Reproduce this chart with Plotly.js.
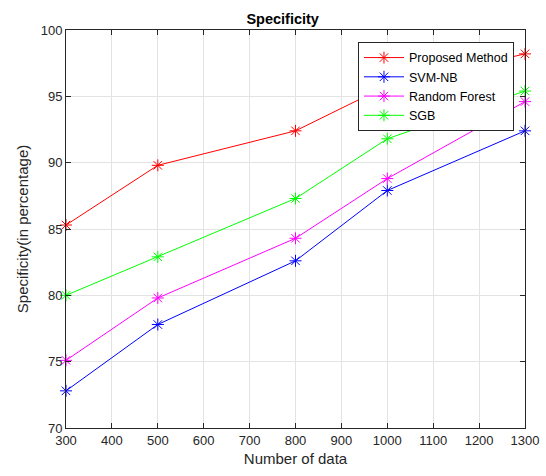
<!DOCTYPE html>
<html>
<head>
<meta charset="utf-8">
<script src="https://cdn.plot.ly/plotly-3.0.1.min.js"></script>
<style>body{margin:0;padding:0;background:#fff}#chart{width:546px;height:476px}</style>
</head>
<body>
<div id="chart"></div>
<script>
const xData = [300, 500, 800, 1000, 1300];
const proposed = [85.3, 89.8, 92.4, 95.8, 98.2];
const svmNb = [72.8, 77.8, 82.6, 87.9, 92.4];
const randomForest = [75.1, 79.8, 84.3, 88.8, 94.6];
const sgb = [80.0, 82.9, 87.3, 91.8, 95.4];
const seriesNames = ['Proposed Method', 'SVM-NB', 'Random Forest', 'SGB'];
const seriesColors = ['#ff0000', '#0000ff', '#ff00ff', '#00ff00'];
const seriesValues = [proposed, svmNb, randomForest, sgb];
const xTicks = [300, 400, 500, 600, 700, 800, 900, 1000, 1100, 1200, 1300];
const yTicks = [70, 75, 80, 85, 90, 95, 100];

const traces = seriesValues.map((v, i) => ({
  x: xData, y: v, name: seriesNames[i], type: 'scatter', mode: 'lines+markers',
  line: {color: seriesColors[i], width: 1},
  marker: {symbol: 'asterisk-open', size: 10, color: seriesColors[i], line: {color: seriesColors[i], width: 1}},
  cliponaxis: false
}));

const axisCommon = {
  showline: true, linecolor: '#262626', linewidth: 1, mirror: 'ticks',
  ticks: 'inside', ticklen: 5, tickcolor: '#262626',
  showgrid: true, gridcolor: '#e3e3e3', gridwidth: 1, zeroline: false,
  tickfont: {family: 'Liberation Sans, Arial, sans-serif', size: 13, color: '#262626'}
};

const layout = {
  width: 546, height: 476,
  margin: {l: 66, r: 21, t: 30, b: 48},
  paper_bgcolor: '#ffffff', plot_bgcolor: '#ffffff',
  font: {family: 'Liberation Sans, Arial, sans-serif', color: '#262626'},
  title: {text: '<b>Specificity</b>', x: 0.472, xanchor: 'center', xref: 'paper', y: 1, yref: 'paper', yanchor: 'bottom', pad: {b: 6},
    font: {size: 14.5, color: '#000000', family: 'Liberation Sans, Arial, sans-serif'}},
  xaxis: Object.assign({}, axisCommon, {
    range: [300, 1300], tickvals: xTicks, ticktext: xTicks.map(String),
    title: {text: 'Number of data', standoff: 6, font: {size: 15, color: '#262626'}}
  }),
  yaxis: Object.assign({}, axisCommon, {
    range: [70, 100], tickvals: yTicks, ticktext: yTicks.map(String),
    title: {text: 'Specificity(in percentage)', standoff: 8, font: {size: 15, color: '#262626'}}
  }),
  showlegend: true,
  legend: {
    x: 0.976, xanchor: 'right', y: 0.97, yanchor: 'top',
    bgcolor: '#ffffff', bordercolor: '#262626', borderwidth: 1,
    itemwidth: 40,
    font: {size: 12.5, color: '#000000', family: 'Liberation Sans, Arial, sans-serif'},
    tracegroupgap: 0
  }
};

Plotly.newPlot('chart', traces, layout, {displayModeBar: false, staticPlot: true});
</script>
</body>
</html>
